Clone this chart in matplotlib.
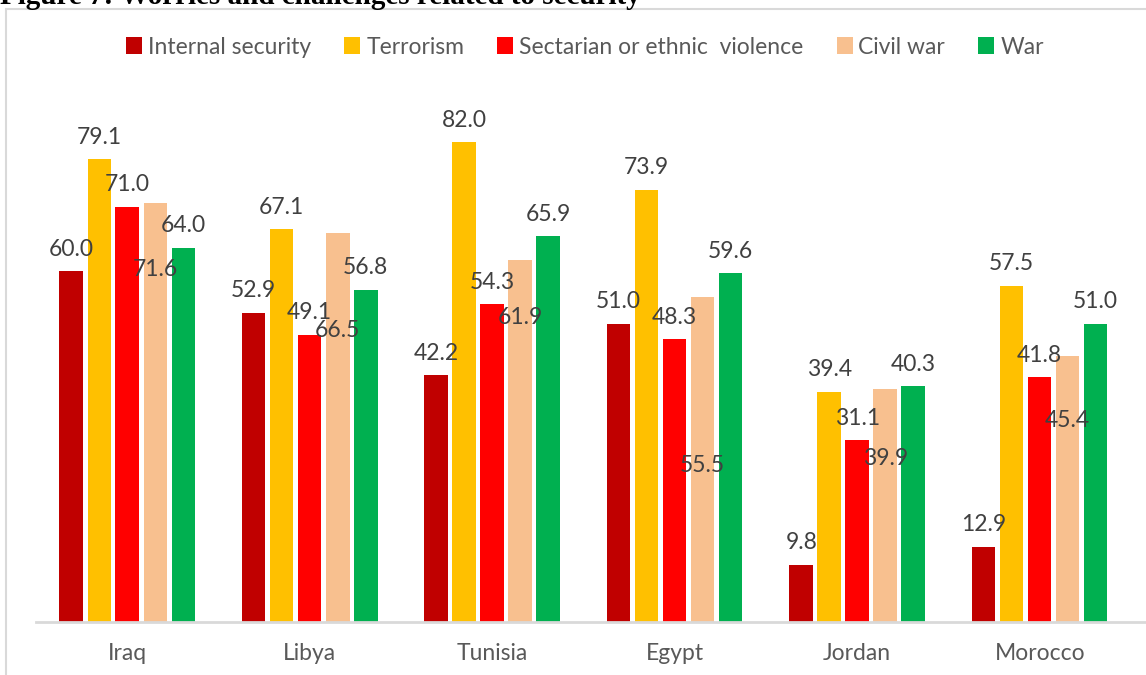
import matplotlib
matplotlib.use("Agg")
import matplotlib.pyplot as plt
import numpy as np
from matplotlib.patches import Rectangle, Patch

countries = ["Iraq", "Libya", "Tunisia", "Egypt", "Jordan", "Morocco"]
series_names = ["Internal security", "Terrorism", "Sectarian or ethnic  violence", "Civil war", "War"]
internal_security = [60.0, 52.9, 42.2, 51.0, 9.8, 12.9]
terrorism = [79.1, 67.1, 82.0, 73.9, 39.4, 57.5]
sectarian = [71.0, 49.1, 54.3, 48.3, 31.1, 41.8]
civil_war = [71.6, 66.5, 61.9, 55.5, 39.9, 45.4]
war = [64.0, 56.8, 65.9, 59.6, 40.3, 51.0]
# vertical placement of civil-war value labels (they sit inside the bars in the original)
civil_war_label_y = [60.3, 49.9, 52.0, 26.7, 28.0, 34.5]

colors = ["#C00000", "#FFC000", "#FF0000", "#F8C08F", "#00B050"]
series = [internal_security, terrorism, sectarian, civil_war, war]

W, H = 1146, 675
fig = plt.figure(figsize=(W / 100, H / 100), dpi=100)
font = "Lato"

# outer frame
fig.patches.append(Rectangle((6 / W, -0.05), 1.2, (H - 9) / H + 0.05, transform=fig.transFigure,
                             fill=False, edgecolor="#D9D9D9", linewidth=1.5))
# cropped title (cut off at the top edge as in the original)
fig.text(0 / W, 1 - 4.5 / H, "Figure 7: Worries and challenges related to security",
         family="Liberation Serif", weight="bold", fontsize=21, color="black",
         ha="left", va="baseline")

ax_left, ax_right = 36 / W, 1146 / W
ax_bottom, ax_top = 1 - 622 / H, 1 - 80 / H
ax = fig.add_axes([ax_left, ax_bottom, ax_right - ax_left, ax_top - ax_bottom])
group_px = 182.5
ax.set_xlim(-0.5, -0.5 + (1146 - 36) / group_px)
ax.set_ylim(0, (622 - 80) / 5.85)

x = np.arange(len(countries))
step = 28 / group_px
width = 23.5 / group_px
offset_units = 22 / 5.85
for i, (vals, c, name) in enumerate(zip(series, colors, series_names)):
    pos = x + (i - 2) * step
    ax.bar(pos, vals, width=width, color=c, label=name, zorder=2)
    for j, v in enumerate(vals):
        if i == 3:
            y = civil_war_label_y[j]
        else:
            y = v + offset_units
        ax.text(pos[j], y, f"{v:.1f}", ha="center", va="center", family=font,
                fontsize=16.5, color="#404040", zorder=3)

for s in ["top", "right", "left"]:
    ax.spines[s].set_visible(False)
ax.spines["bottom"].set_color("#D9D9D9")
ax.spines["bottom"].set_linewidth(2)
ax.set_yticks([])
ax.set_xticks(x)
ax.set_xticklabels(countries, family=font, fontsize=16.5, color="#595959")
ax.tick_params(axis="x", length=0, pad=15)

handles = [Patch(facecolor=c, edgecolor="none") for c in colors]
fig.legend(handles, series_names, loc="center", bbox_to_anchor=(585 / W, 1 - 47 / H),
           ncol=5, frameon=False, prop={"family": font, "size": 16.5},
           handlelength=0.7, handleheight=0.7, handletextpad=0.25, columnspacing=1.45,
           labelcolor="#595959")

fig.savefig("out.png", dpi=100)
